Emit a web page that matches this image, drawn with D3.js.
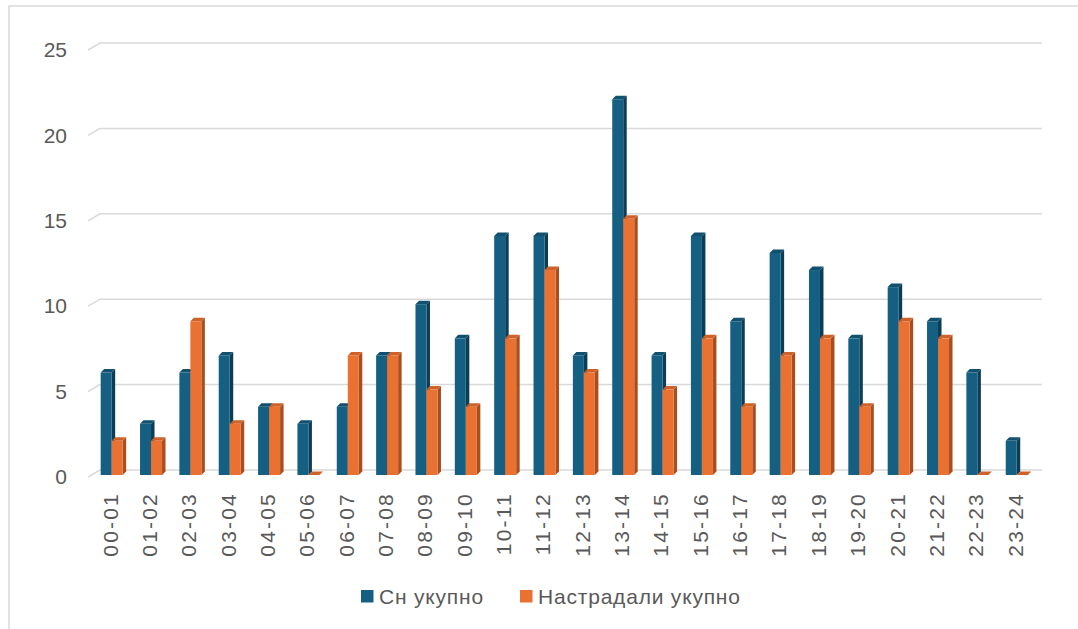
<!DOCTYPE html>
<html>
<head>
<meta charset="utf-8">
<script src="https://cdn.jsdelivr.net/npm/d3@7"></script>
<style>
	body { margin: 0; background: #fff; }
	text { font-family: "Liberation Sans", Arial, sans-serif; fill: #595959; }
</style>
</head>
<body>
<div id="chart"></div>
<script>
	// chart data
	var categories = ['00-01', '01-02', '02-03', '03-04', '04-05', '05-06', '06-07', '07-08',
		'08-09', '09-10', '10-11', '11-12', '12-13', '13-14', '14-15', '15-16',
		'16-17', '17-18', '18-19', '19-20', '20-21', '21-22', '22-23', '23-24'];
	var snTotal = [6, 3, 6, 7, 4, 3, 4, 7, 10, 8, 14, 14, 7, 22, 7, 14, 9, 13, 12, 8, 11, 9, 6, 2];
	var injuredTotal = [2, 2, 9, 3, 4, 0, 7, 7, 5, 4, 8, 12, 6, 15, 5, 8, 4, 7, 8, 4, 9, 8, 0, 0];
	var yTicks = [0, 5, 10, 15, 20, 25];
	var seriesNames = ['Сн укупно', 'Настрадали укупно'];

	var series = [
		{ name: seriesNames[0], values: snTotal, front: '#156082', side: '#0c3d55', top: '#11506e' },
		{ name: seriesNames[1], values: injuredTotal, front: '#e97132', side: '#a94f1f', top: '#cf6229' }
	];

	var width = 1078, height = 629;
	var depth = { x: 12, y: -7 };   // wall offset of the gridlines
	var bar = { w: 11, dx: 3.5, dy: -3.5 };

	var svg = d3.select('#chart').append('svg')
		.attr('width', width)
		.attr('height', height);

	// chart area border
	svg.append('rect')
		.attr('x', 9).attr('y', 6)
		.attr('width', 1200).attr('height', 800)
		.attr('fill', 'none')
		.attr('stroke', '#d9d9d9')
		.attr('stroke-width', 1.5);

	// scales (front plane)
	var x = d3.scaleBand().domain(categories).range([90.5, 1034.9]);
	var y = d3.scaleLinear().domain([0, 25]).range([477, 50]);
	var yBar = d3.scaleLinear().domain([0, 25]).range([475, 48]);

	// gridlines with a short 3D floor edge on the left
	var grid = svg.append('g').attr('class', 'grid');
	grid.selectAll('path')
		.data(yTicks)
		.enter()
		.append('path')
		.attr('fill', 'none')
		.attr('stroke', '#d9d9d9')
		.attr('stroke-width', 1.5)
		.attr('d', function (d) {
			var fy = y(d), x0 = 88;
			return 'M' + x0 + ',' + fy + 'L' + (x0 + depth.x) + ',' + (fy + depth.y) + 'H1042';
		});

	// y axis labels
	var yAxis = svg.append('g')
		.attr('transform', 'translate(67,0)')
		.call(d3.axisLeft(y).tickValues(yTicks).tickSize(0).tickPadding(0));
	yAxis.select('.domain').remove();
	yAxis.selectAll('text')
		.style('font-size', '21px')
		.attr('fill', '#595959')
		.attr('font-family', '"Liberation Sans", Arial, sans-serif');

	// x axis labels, rotated
	var xAxis = svg.append('g')
		.attr('transform', 'translate(0,492)')
		.call(d3.axisBottom(x).tickSize(0).tickPadding(0));
	xAxis.select('.domain').remove();
	xAxis.selectAll('text')
		.style('font-size', '21px')
		.style('letter-spacing', '2.2px')
		.attr('fill', '#595959')
		.attr('font-family', '"Liberation Sans", Arial, sans-serif')
		.attr('text-anchor', 'end')
		.attr('dy', '0.35em')
		.attr('transform', 'rotate(-90)')
		.attr('x', 0)
		.attr('y', 0);

	// 3D bars: front, side and top faces
	var bars = svg.append('g').attr('class', 'bars');
	series.forEach(function (s, si) {
		var g = bars.append('g');
		var items = g.selectAll('g')
			.data(s.values.map(function (v, i) { return { cat: categories[i], v: v }; }))
			.enter()
			.append('g');

		var left = function (d) { return x(d.cat) + x.bandwidth() / 2 - 9.5 + si * bar.w; };

		items.append('path')
			.attr('fill', s.side)
			.attr('d', function (d) {
				var x1 = left(d) + bar.w, y0 = yBar(0), y1 = yBar(d.v);
				return 'M' + x1 + ',' + y0 + 'L' + x1 + ',' + y1 +
					'L' + (x1 + bar.dx) + ',' + (y1 + bar.dy) +
					'L' + (x1 + bar.dx) + ',' + (y0 + bar.dy) + 'Z';
			});

		items.append('path')
			.attr('fill', s.top)
			.attr('d', function (d) {
				var x0 = left(d), y1 = yBar(d.v);
				return 'M' + x0 + ',' + y1 + 'L' + (x0 + bar.w) + ',' + y1 +
					'L' + (x0 + bar.w + bar.dx) + ',' + (y1 + bar.dy) +
					'L' + (x0 + bar.dx) + ',' + (y1 + bar.dy) + 'Z';
			});

		items.append('rect')
			.attr('fill', s.front)
			.attr('x', left)
			.attr('y', function (d) { return yBar(d.v); })
			.attr('width', bar.w)
			.attr('height', function (d) { return yBar(0) - yBar(d.v); });
	});

	// legend
	var legendPos = [361, 520];
	var legend = svg.append('g').attr('class', 'legend');
	series.forEach(function (s, i) {
		legend.append('rect')
			.attr('x', legendPos[i]).attr('y', 590)
			.attr('width', 12.5).attr('height', 12.5)
			.attr('fill', s.front);
		legend.append('text')
			.attr('x', legendPos[i] + 18)
			.attr('y', 604)
			.style('font-size', '21px')
			.style('letter-spacing', '0.8px')
			.text(s.name);
	});
</script>
</body>
</html>
